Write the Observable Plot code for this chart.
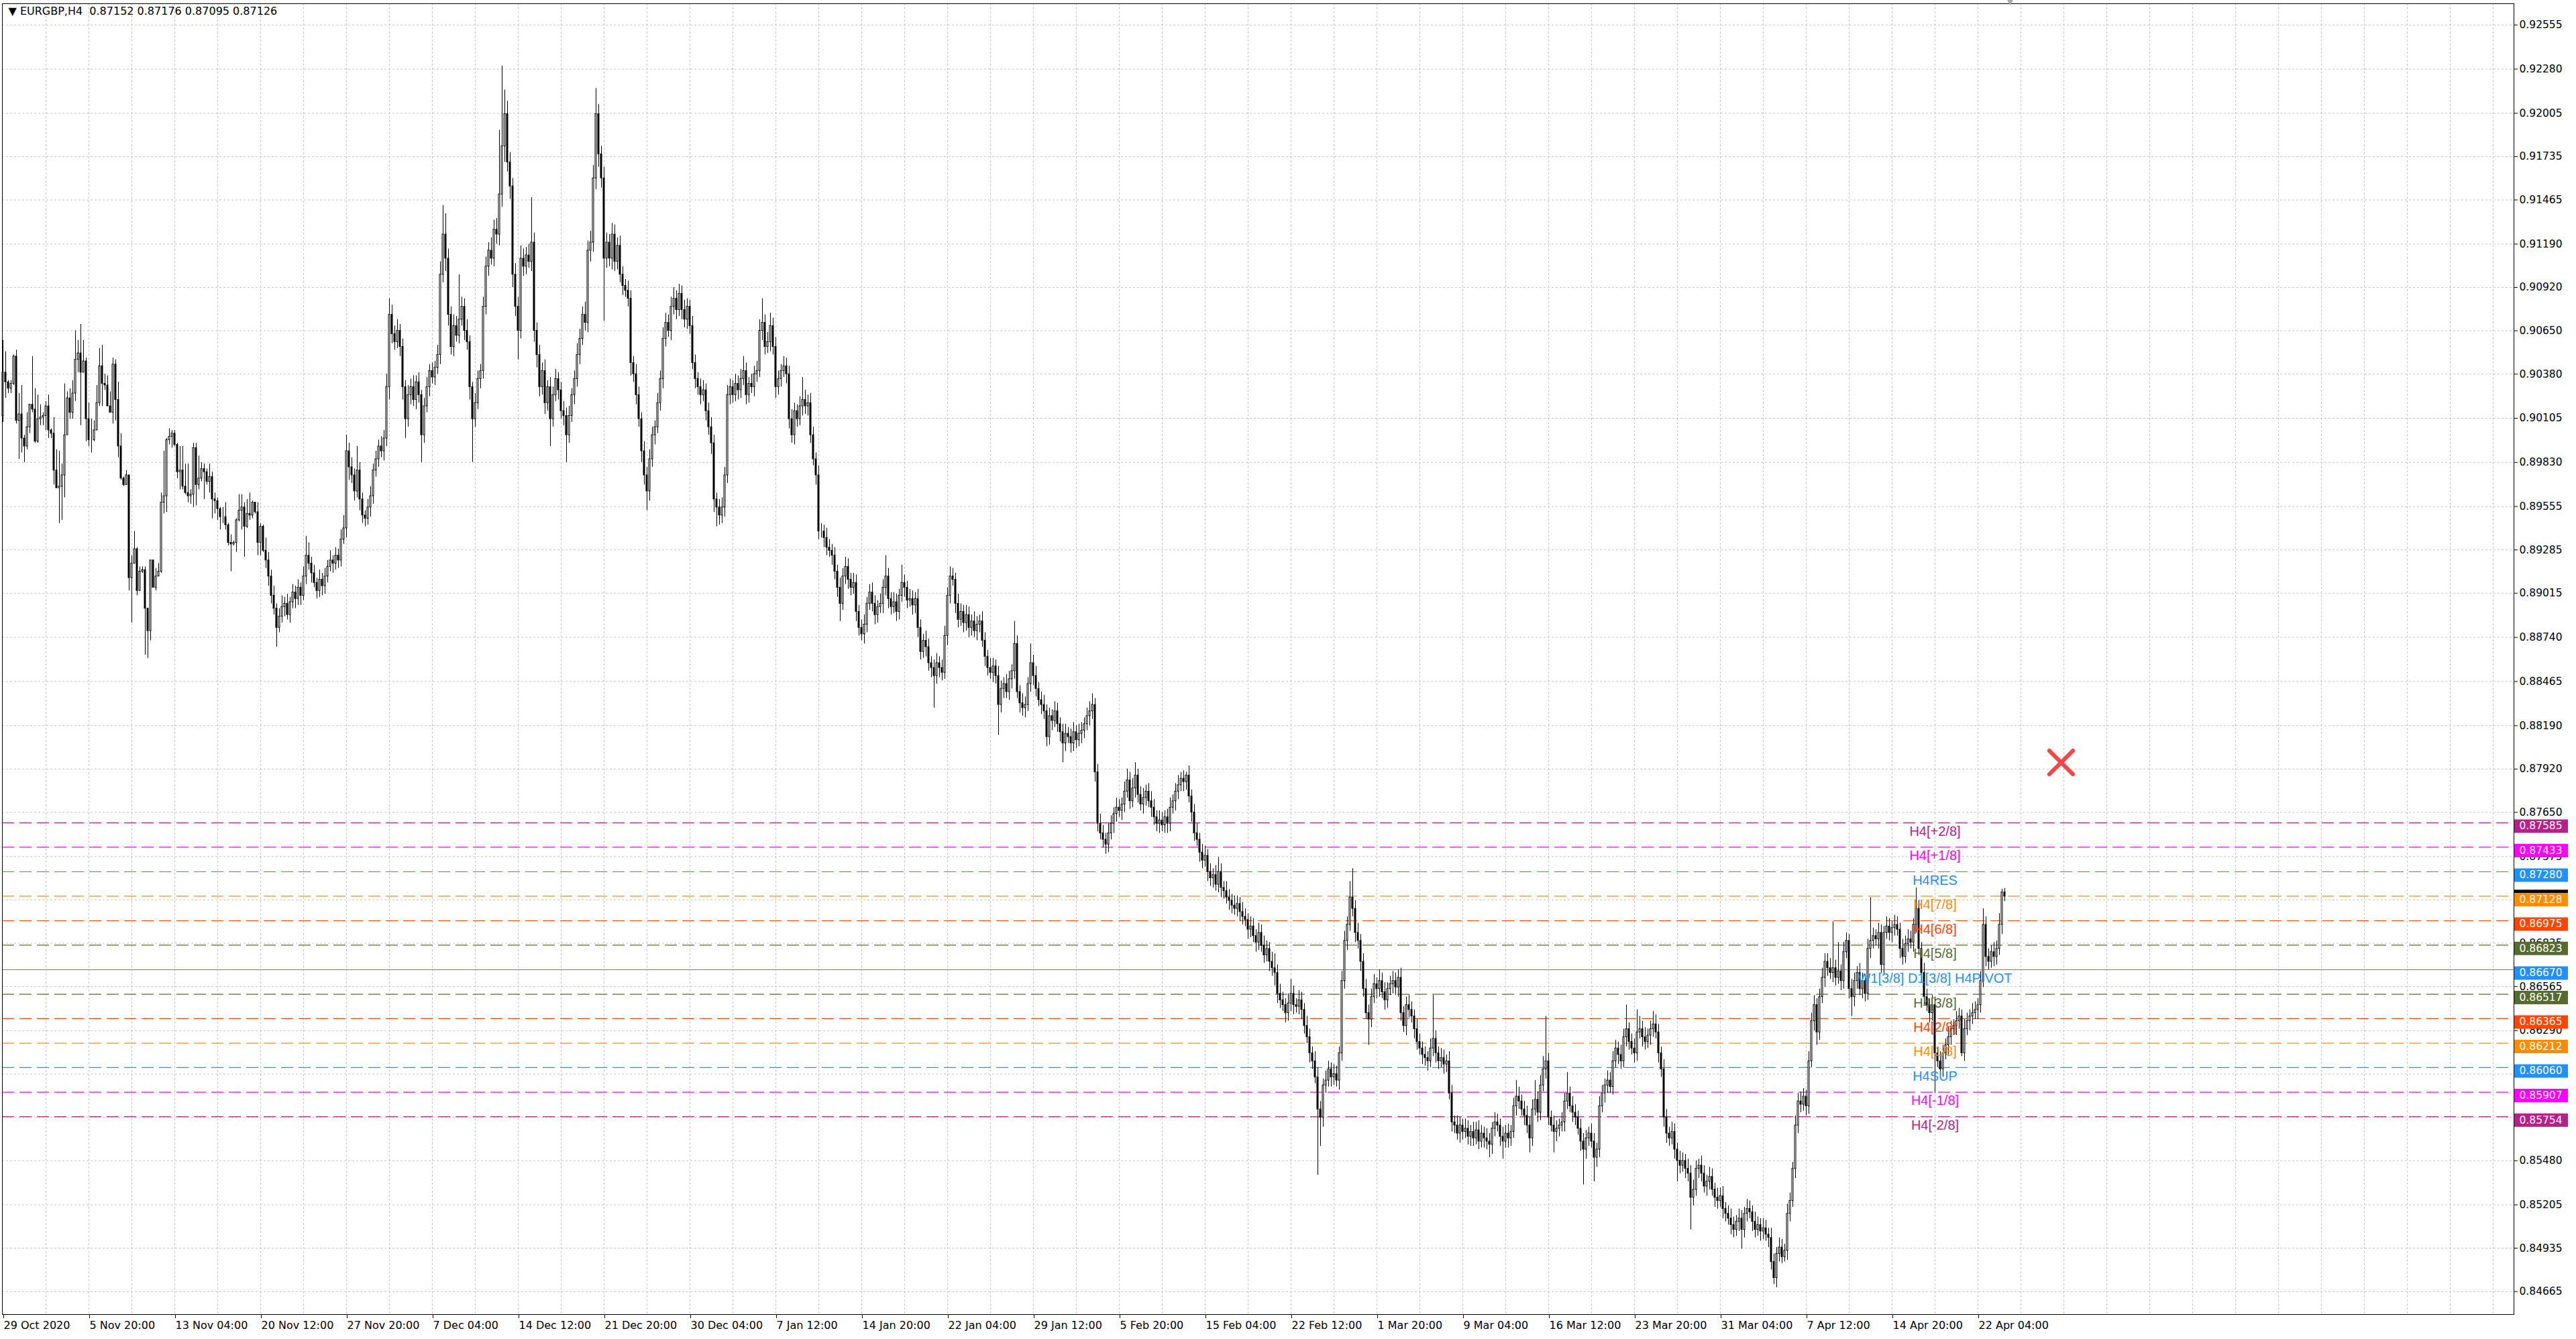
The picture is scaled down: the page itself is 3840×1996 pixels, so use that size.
<!DOCTYPE html>
<html><head><meta charset="utf-8">
<script src="https://cdn.jsdelivr.net/npm/d3@7"></script>
<script src="https://cdn.jsdelivr.net/npm/@observablehq/plot@0.6"></script>
<style>html,body{margin:0;padding:0;background:#fff;overflow:hidden}</style>
</head><body><div id="chart"></div>
<script>
// ---------------- DATA ----------------
const symbol = "EURGBP", timeframe = "H4";
const lastOHLC = [0.87152, 0.87176, 0.87095, 0.87126];

// Prices stored in pips above PIP_BASE (price = PIP_BASE + v/10000), one per H4 bar
const PIP_BASE = 0.8;
const firstOpen = 1012;
const closes = [
1039,1033,1029,1032,1049,1009,1013,998,993,1005,
1019,1016,996,1010,1011,1012,1018,1003,1001,978,
967,968,975,1000,1023,1014,1026,1047,1051,1039,
1046,1010,997,997,1003,1020,1043,1032,1031,1018,
1014,1044,1022,993,973,969,975,911,920,929,
903,915,916,892,878,922,905,912,915,958,
962,997,999,1001,994,977,978,968,964,962,
963,992,969,973,979,977,971,974,960,959,
954,949,949,944,933,932,933,947,953,955,
943,951,950,958,952,933,943,928,922,912,
900,892,880,887,893,895,888,896,902,898,
905,900,912,925,920,914,908,903,910,906,
912,918,922,920,925,922,935,942,990,980,
975,965,978,960,950,948,955,962,978,985,
993,990,998,1030,1075,1063,1058,1065,1055,1030,
1010,1025,1030,1022,1033,1025,1000,1018,1030,1040,
1036,1042,1050,1100,1125,1110,1075,1055,1068,1062,
1072,1080,1065,1058,1030,1010,1020,1035,1040,1080,
1105,1115,1110,1128,1125,1150,1180,1200,1170,1155,
1100,1080,1065,1110,1105,1112,1108,1120,1065,1050,
1030,1040,1020,1030,1010,1025,1035,1028,1015,1012,
1000,1012,1025,1035,1050,1060,1075,1070,1115,1120,
1160,1200,1175,1160,1110,1120,1110,1125,1108,1118,
1100,1093,1090,1085,1045,1038,1025,1010,990,975,
965,985,1000,1005,1020,1035,1060,1070,1065,1080,
1085,1078,1088,1078,1072,1080,1068,1045,1035,1030,
1025,1028,1015,1005,995,960,955,950,955,975,
1025,1030,1025,1032,1028,1035,1040,1025,1032,1030,
1038,1040,1065,1070,1055,1058,1068,1055,1030,1035,
1040,1043,1038,1010,1000,1015,1010,1018,1022,1018,
1020,1000,985,975,940,940,936,930,928,925,
915,905,895,912,918,910,905,908,890,880,
876,882,895,902,895,888,893,895,905,912,
898,893,896,890,900,908,905,897,898,894,
898,880,865,872,868,858,855,850,858,855,
852,875,900,912,910,895,885,890,883,888,
880,884,878,882,884,872,862,855,852,856,
850,832,842,845,840,848,853,870,840,833,
830,832,845,858,850,842,835,832,828,812,
825,822,828,820,815,808,814,812,808,815,
810,814,816,820,825,828,832,790,758,752,
748,745,752,758,764,768,766,770,778,785,
772,780,788,776,770,774,778,772,768,762,
758,760,757,762,758,768,772,778,782,786,
784,788,775,765,752,748,740,735,738,728,
724,726,720,728,718,716,712,710,707,705,
708,703,700,698,692,694,688,684,690,682,
676,680,672,668,665,652,648,645,640,646,
652,645,644,648,642,632,625,615,610,600,
580,575,595,598,605,600,602,598,615,660,
685,695,712,705,690,685,672,655,640,636,
650,658,655,660,653,648,655,658,660,656,
662,640,632,645,642,638,630,622,618,614,
612,610,618,624,615,610,612,608,610,590,
572,570,565,570,566,568,563,566,562,567,
560,565,562,560,558,568,572,570,563,560,
565,562,566,582,588,585,580,576,570,562,
580,586,578,595,605,610,575,570,566,568,
570,572,585,590,582,578,575,568,560,555,
562,565,560,550,555,582,590,595,598,594,
610,618,614,610,625,630,622,618,615,628,
630,625,622,626,630,633,628,615,605,575,
565,562,566,555,548,545,548,543,540,525,
530,543,545,540,532,535,538,530,525,523,
526,518,515,512,508,505,510,512,505,515,
518,516,510,505,508,504,506,502,500,485,
475,490,494,488,492,515,523,543,570,585,
583,588,582,610,635,645,628,650,662,672,
668,665,668,662,666,660,678,685,655,650,
660,665,655,660,652,680,685,688,686,690,
670,690,694,690,693,695,692,680,675,683,
686,684,695,705,680,665,650,645,640,645,
615,610,605,615,620,625,630,632,635,638,
615,630,635,638,640,642,645,660,695,675,
672,678,675,680,695,715.2,712.6];
// upper wick (pips above body top) and lower wick (pips below body bottom)
const wickUp = [
20,13,1,2,1,4,13,18,2,9, 0,30,13,15,8,2,3,7,1,10, 13,22,7,32,4,6,8,18,8,18, 13,2,10,13,6,11,11,13,6,6,
9,4,3,11,8,1,3,0,5,11, 1,3,2,2,0,0,0,5,5,6, 28,1,5,2,2,1,15,15,14,18, 3,3,3,14,4,3,2,8,3,4,
2,1,6,9,1,5,1,1,10,8, 3,9,13,1,0,6,2,1,8,5, 4,6,3,5,7,4,6,3,5,4, 5,3,6,12,8,4,5,3,6,4,
5,4,6,3,5,4,6,8,10,5, 6,4,15,5,4,3,5,6,4,5, 4,6,5,8,10,6,5,7,4,5, 4,6,5,7,4,6,3,5,6,4,
5,4,6,8,18,13,6,5,7,6, 28,6,5,7,4,3,6,5,4,6, 6,5,8,6,7,40,50,15,8,6, 5,7,6,8,6,5,7,28,6,5,
6,5,7,4,6,5,6,4,5,6, 5,6,4,5,7,6,5,8,6,7, 8,16,6,5,7,6,5,7,6,5, 6,5,4,6,5,4,6,5,4,6,
5,6,5,4,6,5,7,6,5,6, 7,5,6,5,6,5,4,6,5,4, 5,6,4,5,6,5,4,5,6,5, 6,5,4,6,5,6,9,5,4,6,
5,6,7,15,5,6,8,5,6,5, 4,6,5,5,6,5,4,6,14,6, 5,6,5,4,6,5,4,6,5,4, 5,4,6,5,6,5,4,6,5,4,
5,6,4,5,6,5,4,6,5,13, 5,4,6,5,4,11,5,4,6,5, 4,6,5,4,6,5,4,5,6,4, 5,6,5,6,5,4,6,5,4,6,
5,4,6,5,4,6,5,4,6,5, 4,6,5,4,6,5,4,14,5,4, 6,5,4,12,5,6,4,5,6,4, 5,4,6,5,4,5,6,4,5,6,
4,6,5,4,5,6,7,4,5,6, 5,4,6,5,4,6,5,4,6,7, 5,6,8,4,5,6,4,5,6,5, 4,6,5,4,5,6,4,5,6,4,
5,2,6,4,5,6,4,5,6,4, 5,4,6,9,5,4,6,5,4,6, 5,4,6,5,4,6,5,4,6,5, 6,5,4,6,9,5,6,5,4,6,
9,5,4,6,5,4,6,5,4,6, 6,5,4,6,5,4,6,5,4,6, 6,5,10,18,5,6,4,5,6,5, 5,6,4,7,5,6,4,5,6,5,
5,6,4,5,6,5,4,6,5,4, 5,4,6,27,5,4,6,5,4,6, 5,4,6,5,4,6,5,4,6,5, 6,5,4,6,5,4,6,5,4,6,
5,6,4,5,10,6,4,5,6,5, 6,12,5,6,8,28,5,4,6,5, 4,6,5,13,4,6,5,4,6,5, 5,4,6,5,4,6,5,4,6,5,
6,5,4,6,5,15,4,5,6,14, 8,5,6,4,5,8,6,5,4,6, 5,4,6,5,4,6,5,4,6,5, 6,5,4,6,5,4,6,5,4,6,
5,6,4,5,6,5,4,6,5,4, 6,5,4,6,5,4,6,5,4,6, 5,4,6,5,4,6,5,4,6,5, 6,5,4,6,5,6,4,5,6,5,
5,6,29,5,18,4,6,5,4,6, 5,4,6,5,4,6,27,5,4,6, 5,4,6,5,4,6,5,4,6,5, 6,5,4,13,5,4,6,5,4,6,
5,4,6,5,4,6,5,4,6,5, 4,6,5,4,6,5,4,6,10,5, 5,4,6,5,7,2,2.4];
const wickDn = [
4,10,3,3,1,2,24,9,10,2, 4,2,1,1,4,5,9,5,3,9, 0,22,21,14,0,4,4,5,8,33, 0,14,4,8,1,0,2,14,3,0,
0,7,13,7,1,1,0,8,28,0, 3,0,1,29,17,6,0,2,0,1, 7,10,3,7,1,4,11,2,1,4, 5,8,13,3,2,17,2,7,12,8,
7,8,4,3,2,17,1,6,1,12, 19,1,3,2,1,8,8,1,5,6, 5,4,12,3,4,6,3,5,4,6, 4,6,3,5,4,6,3,5,4,6,
5,4,3,6,4,5,4,3,6,8, 5,6,4,7,5,5,4,6,5,4, 5,4,6,5,8,6,5,4,6,8, 12,5,6,4,6,5,17,5,4,6,
4,5,4,6,5,8,7,5,6,4, 5,4,6,5,8,27,5,4,6,5, 5,6,4,5,6,7,8,10,6,8, 8,6,18,5,6,5,4,6,7,8,
6,5,7,5,17,5,4,6,5,6, 17,5,4,6,5,6,4,5,6,7, 6,7,8,6,39,6,5,7,6,5, 5,6,4,5,8,5,6,5,7,6,
12,6,5,6,4,5,6,5,4,6, 5,6,4,6,5,6,5,4,6,5, 6,4,6,5,7,8,12,6,5,6, 5,6,5,4,6,5,4,6,5,4,
6,5,4,6,5,4,6,5,7,5, 5,4,6,6,5,6,5,4,6,5, 6,5,4,6,5,4,6,5,4,6, 5,6,11,4,5,6,5,4,6,5,
4,6,5,4,5,6,5,4,6,5, 6,5,4,6,5,4,6,5,4,6, 5,6,5,4,6,5,6,20,5,6, 5,4,6,5,4,6,5,4,6,5,
6,5,4,6,5,4,6,5,4,6, 5,19,5,6,4,5,6,5,4,6, 5,6,4,5,6,5,4,6,5,6, 5,6,4,5,6,12,5,4,6,5,
5,4,6,5,4,6,5,6,5,4, 5,6,5,4,6,5,4,6,5,4, 5,4,6,5,4,6,5,4,6,5, 5,6,4,5,6,5,4,6,5,4,
6,5,4,6,5,4,6,5,4,6, 5,6,4,5,6,5,4,6,5,4, 5,6,5,4,6,5,4,6,5,4, 5,4,6,5,8,6,5,4,6,5,
5,6,4,5,6,5,4,6,5,4, 41,18,6,5,4,6,5,4,6,5, 5,6,4,5,6,5,6,5,4,16, 5,4,6,5,4,6,5,4,6,5,
6,5,4,6,5,4,6,5,4,6, 5,6,4,5,6,5,4,6,5,4, 6,5,4,6,5,4,5,6,5,4, 5,4,6,5,8,6,5,4,6,11,
4,6,5,4,6,5,4,6,5,9, 5,4,6,5,4,6,5,4,13,6, 5,4,6,5,4,6,5,4,6,22, 6,5,4,15,6,5,4,6,5,4,
5,4,6,5,4,6,5,4,6,5, 4,6,5,4,6,5,4,6,5,6, 6,5,4,6,13,5,4,6,5,20, 5,4,6,5,4,6,5,4,6,5,
4,6,5,4,6,5,4,6,12,5, 5,4,6,5,4,6,5,4,6,5, 4,6,5,4,3,6,5,4,6,5, 5,4,6,5,4,6,8,5,4,6,
5,4,6,5,4,6,5,4,6,12, 6,5,4,6,5,4,6,5,4,6, 5,6,4,5,6,5,4,6,5,4, 5,4,6,5,4,6,5,4,6,5,
25,4,6,5,4,6,5,4,6,5, 2,5,4,6,5,4,6,5,4,6, 5,4,6,5,4,6,3.1];

// right price-axis grid values, and the ones whose label stays visible (others sit under price boxes)
const yTicks = [0.92555,0.92280,0.92005,0.91735,0.91465,0.91190,0.90920,0.90650,0.90380,0.90105,
  0.89830,0.89555,0.89285,0.89015,0.88740,0.88465,0.88190,0.87920,0.87650,0.87375,0.87105,
  0.86835,0.86565,0.86290,0.86020,0.85750,0.85480,0.85205,0.84935,0.84665];
const yTicksCovered = [0.87105, 0.86020, 0.85750];
// time-axis labels and the bar each one sits on
const dateLabels = ["29 Oct 2020","5 Nov 20:00","13 Nov 04:00","20 Nov 12:00","27 Nov 20:00","7 Dec 04:00",
  "14 Dec 12:00","21 Dec 20:00","30 Dec 04:00","7 Jan 12:00","14 Jan 20:00","22 Jan 04:00","29 Jan 12:00",
  "5 Feb 20:00","15 Feb 04:00","22 Feb 12:00","1 Mar 20:00","9 Mar 04:00","16 Mar 12:00","23 Mar 20:00",
  "31 Mar 04:00","7 Apr 12:00","14 Apr 20:00","22 Apr 04:00"];
const dateBars = [0,32,64,96,128,160,192,224,256,288,320,352,384,416,448,480,512,544,576,608,640,672,704,736];

// Murrey-math levels
const levelNames = ["H4[+2/8]","H4[+1/8]","H4RES","H4[7/8]","H4[6/8]","H4[5/8]","W1[3/8] D1[3/8] H4PIVOT",
  "H4[3/8]","H4[2/8]","H4[1/8]","H4SUP","H4[-1/8]","H4[-2/8]"];
const levelPrices = [0.87585,0.87433,0.87280,0.87128,0.86975,0.86823,0.86670,0.86517,0.86365,0.86212,0.86060,0.85907,0.85754];
const levelColors = ["#B5208A","#FF00FF","#1E90FF","#FF8C00","#FF4500","#556B2F","#1E90FF","#556B2F","#FF4500","#FF8C00","#1E90FF","#FF00FF","#B5208A"];
const levelSolid = [false,false,false,false,false,false,true,false,false,false,false,false,false];

// chart object: red cross
const crossMarks = [{bar: 767, price: 0.87961}];

// ---------------- BUILD ----------------
const bars = closes.map((c, i) => {
  const o = i === 0 ? firstOpen : closes[i - 1];
  const up = wickUp[i] ?? 0, dn = wickDn[i] ?? 0;
  return {
    i,
    o: PIP_BASE + o / 1e4,
    c: PIP_BASE + c / 1e4,
    h: PIP_BASE + (Math.max(o, c) + up) / 1e4,
    l: PIP_BASE + (Math.min(o, c) - dn) / 1e4
  };
});
const levels = levelNames.map((name, k) => ({name, price: levelPrices[k], color: levelColors[k], solid: levelSolid[k]}));

const xDomain = [-0.25, 935.75];
const xMax = xDomain[1];
const boxBars = 20;                    // price-box width in bars (layout)
const labelBar = closes.length - 27;   // where MT4 prints level names
const shiftBar = closes.length + 1;    // chart-shift marker
const vGrid = d3.range(16, xMax, 16);
const fmt = d3.format(".5f");
const header = `\u25BC ${symbol},${timeframe}\u00A0\u00A0${lastOHLC.map(fmt).join(" ")}`;
const labelTicks = yTicks.filter(t => !yTicksCovered.includes(t));

const chart = Plot.plot({
  width: 3840, height: 1996,
  marginLeft: 3, marginRight: 93, marginTop: 5, marginBottom: 37,
  x: {type: "linear", domain: xDomain},
  y: {type: "linear", domain: [0.84522, 0.926875]},
  color: {type: "identity"},
  style: {fontFamily: "DejaVu Sans", fontSize: "15.5px", background: "white", color: "black", overflow: "visible"},
  marks: [
    Plot.ruleY(yTicks, {stroke: "#c4c4c4", strokeDasharray: "3,3"}),
    Plot.ruleX(vGrid, {stroke: "#c4c4c4", strokeDasharray: "3,3"}),
    Plot.ruleY(levels.filter(d => !d.solid), {y: "price", stroke: "color", strokeDasharray: "18,8", strokeWidth: 1.2}),
    Plot.ruleY(levels.filter(d => d.solid), {y: "price", stroke: "color", strokeWidth: 1.2}),
    Plot.ruleX(bars, {x: "i", y1: "l", y2: "h", stroke: "black", strokeWidth: 1}),
    Plot.rect(bars, {x1: d => d.i - 0.25, x2: d => d.i + 0.25, y1: "o", y2: "c",
      fill: d => d.c >= d.o ? "white" : "black", stroke: "black", strokeWidth: 1}),
    Plot.text(levels, {x: () => labelBar, y: "price", text: "name", fill: "color", dy: 13,
      fontFamily: "Liberation Sans", fontSize: 20}),
    Plot.dot(crossMarks, {x: "bar", y: "price", symbol: "times", r: 16, stroke: "#F04848",
      strokeWidth: 6, strokeLinecap: "round"}),
    Plot.frame({stroke: "black"}),
    Plot.text(["\u25BC"], {x: () => shiftBar, frameAnchor: "top", text: d => d, lineAnchor: "middle",
      fontSize: 11, fill: "#a8a8a8", dy: -2}),
    Plot.axisY(labelTicks, {anchor: "right", tickSize: 5, tickPadding: 3, tickFormat: fmt, fill: "black"}),
    Plot.axisX(dateBars, {anchor: "bottom", tickSize: 6, tickPadding: 4, textAnchor: "start", dx: 1,
      tickFormat: d => dateLabels[dateBars.indexOf(d)], fontSize: 16, fill: "black"}),
    // price boxes on the right axis
    Plot.ruleY([lastOHLC[3]], {y: d => d, x1: () => xMax, x2: () => xMax + boxBars, dx: 1, dy: 0,
      stroke: "black", strokeWidth: 20}),
    Plot.ruleY(levels, {y: "price", x1: () => xMax, x2: () => xMax + boxBars, dx: 1, dy: 5,
      stroke: "color", strokeWidth: 20}),
    Plot.text(levels, {x: () => xMax, y: "price", text: d => fmt(d.price), fill: "white",
      textAnchor: "start", dx: 8, dy: 5}),
    Plot.text([header], {frameAnchor: "top-left", text: d => d, textAnchor: "start", lineAnchor: "top",
      dx: 9, dy: 5, fontSize: 16, fill: "black"})
  ]
});
document.getElementById("chart").appendChild(chart);
</script></body></html>
